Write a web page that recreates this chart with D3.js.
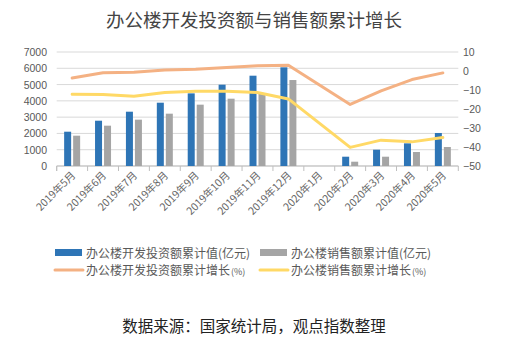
<!DOCTYPE html>
<html><head><meta charset="utf-8">
<script src="https://cdn.jsdelivr.net/npm/d3@7"></script>
<style>body{margin:0;background:#fff;} svg{display:block;}</style>
</head><body>
<svg id="c" width="508" height="340"></svg>
<script>
const categories = ["2019年5月","2019年6月","2019年7月","2019年8月","2019年9月","2019年10月","2019年11月","2019年12月","2020年1月","2020年2月","2020年3月","2020年4月","2020年5月"];
const investValue = [2106,2781,3334,3887,4460,4993,5545,6058,null,571,1001,1391,2026];
const salesValue = [1862,2476,2845,3213,3766,4133,4450,5279,null,264,571,860,1166];
const investGrowth = [-3.7,-0.9,-0.7,0.5,0.9,1.8,2.8,3.0,null,-17.6,-10.5,-4.5,-1.0];
const salesGrowth = [-12.2,-12.4,-13.3,-11.3,-10.7,-10.7,-11.3,-14.7,null,-40.2,-36.4,-37.3,-35.0];
const leftTicks = [0,1000,2000,3000,4000,5000,6000,7000];
const rightTicks = [-50,-40,-30,-20,-10,0,10];
const legendLabels = [["办公楼开发投资额累计值(亿元)",""],["办公楼销售额累计值(亿元)",""],["办公楼开发投资额累计增长","(%)"],["办公楼销售额累计增长","(%)"]];

(function(){
const svg = d3.select("#c");
const font = "'Noto Sans CJK SC','Microsoft YaHei',sans-serif";
const pL = 56.7, pR = 458.3, pT = 52, pB = 166;
const x = d3.scaleBand().domain(categories).range([pL, pR]);
const yL = d3.scaleLinear().domain([0,7000]).range([pB, pT]);
const yR = d3.scaleLinear().domain([-50,10]).range([pB, pT]);

svg.append("text").attr("x",254).attr("y",27).attr("text-anchor","middle")
  .attr("font-family",font).attr("font-size",18.5).attr("fill","#444").text("办公楼开发投资额与销售额累计增长");

svg.append("g").selectAll("line").data(leftTicks).join("line")
  .attr("x1",pL).attr("x2",pR).attr("y1",d=>yL(d)).attr("y2",d=>yL(d))
  .attr("stroke","#d9d9d9").attr("stroke-width",1);

svg.append("g").selectAll("text").data(leftTicks).join("text")
  .attr("x",47).attr("y",d=>yL(d)+4).attr("text-anchor","end")
  .attr("font-family","'Liberation Sans',Arial,sans-serif").attr("font-size",10.5).attr("fill","#595959").text(d=>d);
svg.append("g").selectAll("text").data(rightTicks).join("text")
  .attr("x",463).attr("y",d=>yR(d)+4).attr("text-anchor","start")
  .attr("font-family","'Liberation Sans',Arial,sans-serif").attr("font-size",10.5).attr("fill","#595959")
  .text(d=>d<0?"\u2212"+Math.abs(d):d);

const xAxis = d3.axisBottom(x).tickSize(5).tickFormat("");
const gx = svg.append("g").attr("transform",`translate(0,${pB})`).call(xAxis);
gx.select(".domain").attr("stroke","#bfbfbf").attr("d",`M${pL},5V0H${pR}V5`);
gx.selectAll(".tick line").attr("stroke","#bfbfbf").attr("transform",`translate(${-x.bandwidth()/2},0)`);

svg.append("g").selectAll("text").data(categories).join("text")
  .attr("transform",d=>`translate(${x(d)+x.bandwidth()/2+4},${pB+10}) rotate(-45)`)
  .attr("text-anchor","end").attr("font-family",font).attr("font-size",10.5).attr("fill","#666").text(d=>d);

const bw = 7;
const cx = d=>x(d)+x.bandwidth()/2;
svg.append("g").selectAll("rect").data(categories.map((c,i)=>({c,v:investValue[i]})).filter(d=>d.v!=null)).join("rect")
  .attr("x",d=>cx(d.c)-bw-1).attr("width",bw).attr("y",d=>yL(d.v)).attr("height",d=>pB-yL(d.v)).attr("fill","#2E75B6");
svg.append("g").selectAll("rect").data(categories.map((c,i)=>({c,v:salesValue[i]})).filter(d=>d.v!=null)).join("rect")
  .attr("x",d=>cx(d.c)+1).attr("width",bw).attr("y",d=>yL(d.v)).attr("height",d=>pB-yL(d.v)).attr("fill","#A5A5A5");

function drawLine(vals,color){
  const pts = categories.map((c,i)=>({c,v:vals[i]})).filter(d=>d.v!=null);
  const line = d3.line().x(d=>cx(d.c)).y(d=>yR(d.v));
  svg.append("path").attr("d",line(pts)).attr("fill","none").attr("stroke",color)
    .attr("stroke-width",3).attr("stroke-linejoin","round").attr("stroke-linecap","round");
}
drawLine(investGrowth,"#F4B183");
drawLine(salesGrowth,"#FFD966");

const lg = svg.append("g").attr("font-family",font).attr("font-size",12).attr("fill","#595959");
const items = [
  {x:55,y:253,type:"rect",color:"#2E75B6"},
  {x:260,y:253,type:"rect",color:"#A5A5A5"},
  {x:55,y:270,type:"line",color:"#F4B183"},
  {x:260,y:270,type:"line",color:"#FFD966"}
];
items.forEach((it,i)=>{
  if(it.type==="rect") lg.append("rect").attr("x",it.x).attr("y",it.y-4).attr("width",27).attr("height",7).attr("fill",it.color);
  else lg.append("line").attr("x1",it.x).attr("x2",it.x+28).attr("y1",it.y).attr("y2",it.y).attr("stroke",it.color).attr("stroke-width",3).attr("stroke-linecap","round");
  const t = lg.append("text").attr("x",it.x+31).attr("y",it.y+4.5);
  t.append("tspan").text(legendLabels[i][0]);
  if(legendLabels[i][1]) t.append("tspan").attr("font-size",9).attr("dx",1).text(legendLabels[i][1]);
});

svg.append("text").attr("x",254).attr("y",332).attr("text-anchor","middle")
  .attr("font-family",font).attr("font-size",15.5).attr("fill","#222").text("数据来源：国家统计局，观点指数整理");
})();
</script>
</body></html>
